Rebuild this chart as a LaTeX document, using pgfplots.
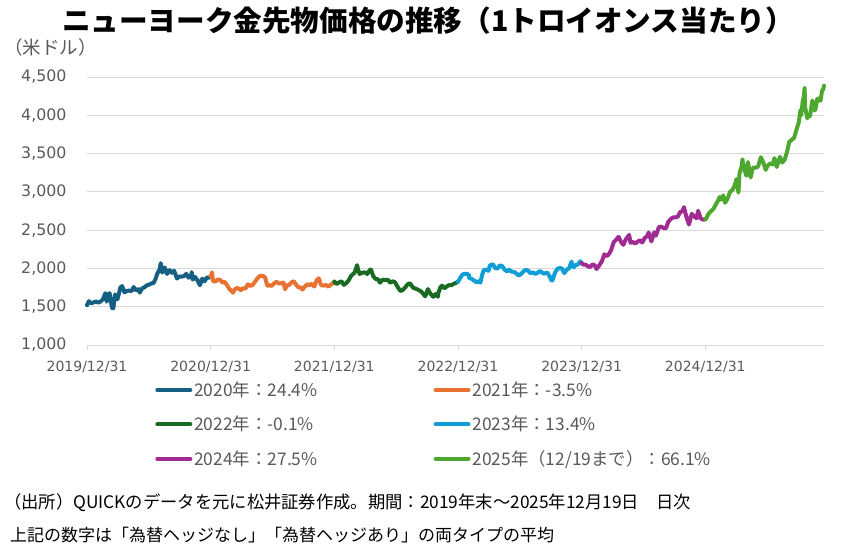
\documentclass[border=0pt]{standalone}
\usepackage{fontspec}
\setmainfont{Noto Sans CJK JP}
\newfontfamily\dv{DejaVu Sans}
\usepackage{pgfplots}
\pgfplotsset{compat=1.18}
\definecolor{c20}{HTML}{156082}
\definecolor{c21}{HTML}{E97132}
\definecolor{c22}{HTML}{196B24}
\definecolor{c23}{HTML}{0F9ED5}
\definecolor{c24}{HTML}{A02B93}
\definecolor{c25}{HTML}{4EA72E}
\definecolor{txtgrey}{HTML}{595959}
\definecolor{gridgrey}{HTML}{D9D9D9}
\begin{document}
\begin{tikzpicture}[x=1pt,y=1pt]
\useasboundingbox (0,0) rectangle (859,551);
\node[font=\fontsize{28.6}{32}\selectfont\bfseries, anchor=center] at (428,530) {ニューヨーク金先物価格の推移（1トロイオンス当たり）};
\node[font=\fontsize{18.5}{20}\selectfont, text=txtgrey, anchor=west, inner sep=0pt] at (4,503.5) {（米ドル）};
\node[font=\fontsize{17.3}{20}\selectfont, anchor=west, inner sep=0pt] at (4,48.5) {（出所）QUICKのデータを元に松井証券作成。期間：2019年末～2025年12月19日　日次};
\node[font=\fontsize{17}{20}\selectfont, anchor=west, inner sep=0pt] at (10,16) {上記の数字は「為替ヘッジなし」「為替ヘッジあり」の両タイプの平均};
\begin{axis}[
  at={(87pt,206pt)}, anchor=south west,
  width=737pt, height=268pt, scale only axis,
  xmin=0, xmax=5.96, ymin=1000, ymax=4500,
  clip=false,
  axis x line*=bottom, axis y line*=left,
  y axis line style={draw=none},
  x axis line style={draw=gridgrey, line width=0.8pt},
  ytick={1000,1500,...,4500},
  xtick={0,1,2,3,4,5},
  xticklabels={2019/12/31,2020/12/31,2021/12/31,2022/12/31,2023/12/31,2024/12/31},
  ymajorgrids, grid style={gridgrey, line width=0.8pt},
  major tick length=5pt,
  xtick align=outside,
  x tick style={draw=gridgrey, line width=0.8pt},
  y tick style={draw=none},
  tick label style={text=txtgrey},
  xticklabel style={font=\dv\fontsize{14}{16}\selectfont, yshift=-8pt},
  yticklabel style={font=\dv\fontsize{15.8}{18}\selectfont, xshift=-17pt},
  /pgf/number format/assume math mode=true,
  /pgf/number format/1000 sep={,},
  legend columns=2,
  legend cell align=left,
  legend image code/.code={\draw[line width=4pt, line cap=round] (0pt,0pt) -- (33pt,0pt);},
  legend style={at={(0.0924,-0.13)}, anchor=north west, draw=none, fill=none,
    font=\fontsize{17.4}{20}\selectfont, text=txtgrey, row sep=14pt, inner sep=0pt,
    /tikz/every even column/.append style={column sep=114pt}},
  every axis plot/.append style={line width=4pt, line join=round, line cap=round},
]
\addplot[c20] coordinates {
(0.000,1520)(0.016,1574)(0.019,1560)(0.036,1545)(0.055,1558)(0.074,1568)(0.093,1553)(0.112,1570)(0.131,1603)(0.148,1676)(0.159,1566)(0.175,1672)(0.183,1675)(0.191,1590)(0.202,1486)(0.213,1478)(0.227,1660)(0.246,1596)(0.254,1645)(0.270,1752)(0.284,1769)(0.303,1688)(0.322,1707)(0.341,1710)(0.361,1705)(0.377,1757)(0.399,1712)(0.418,1728)(0.426,1683)(0.445,1737)(0.464,1753)(0.484,1780)(0.500,1787)(0.519,1803)(0.538,1810)(0.555,1865)(0.568,1931)(0.587,1986)(0.596,2069)(0.609,1946)(0.628,2013)(0.648,1928)(0.667,1978)(0.686,1943)(0.705,1970)(0.727,1868)(0.746,1895)(0.765,1893)(0.784,1900)(0.803,1929)(0.822,1879)(0.842,1910)(0.847,1951)(0.855,1854)(0.874,1889)(0.896,1837)(0.913,1780)(0.932,1866)(0.951,1832)(0.970,1882)(0.989,1880)(1.000,1895)
};
\addlegendentry{2020年：24.4\%}
\addplot[c21] coordinates {
(1.000,1895)(1.011,1950)(1.019,1835)(1.038,1829)(1.058,1856)(1.077,1850)(1.096,1814)(1.115,1824)(1.134,1776)(1.153,1729)(1.173,1700)(1.181,1683)(1.192,1720)(1.211,1745)(1.230,1733)(1.244,1715)(1.263,1742)(1.282,1737)(1.301,1793)(1.321,1773)(1.340,1785)(1.359,1826)(1.378,1870)(1.397,1900)(1.414,1905)(1.433,1893)(1.441,1877)(1.458,1774)(1.479,1781)(1.493,1771)(1.512,1803)(1.532,1825)(1.551,1803)(1.570,1806)(1.589,1814)(1.603,1727)(1.614,1778)(1.633,1781)(1.652,1816)(1.671,1833)(1.690,1790)(1.710,1753)(1.729,1750)(1.742,1723)(1.762,1762)(1.781,1793)(1.800,1783)(1.819,1798)(1.838,1763)(1.858,1848)(1.874,1871)(1.893,1783)(1.912,1775)(1.932,1784)(1.953,1763)(1.973,1790)(1.992,1810)(2.000,1828)
};
\addlegendentry{2021年：-3.5\%}
\addplot[c22] coordinates {
(2.000,1828)(2.019,1797)(2.038,1817)(2.058,1832)(2.077,1786)(2.096,1807)(2.115,1842)(2.134,1899)(2.151,1926)(2.164,1944)(2.184,2043)(2.192,1985)(2.205,1928)(2.225,1944)(2.247,1949)(2.266,1927)(2.285,1974)(2.296,1986)(2.315,1898)(2.334,1863)(2.353,1858)(2.370,1814)(2.389,1853)(2.414,1848)(2.433,1852)(2.452,1813)(2.471,1832)(2.490,1821)(2.510,1764)(2.534,1705)(2.553,1718)(2.573,1752)(2.592,1791)(2.611,1807)(2.622,1780)(2.638,1748)(2.658,1736)(2.679,1720)(2.699,1702)(2.718,1671)(2.734,1636)(2.745,1672)(2.756,1730)(2.775,1676)(2.800,1629)(2.819,1666)(2.838,1630)(2.841,1677)(2.858,1754)(2.871,1776)(2.890,1740)(2.912,1768)(2.926,1781)(2.945,1781)(2.964,1797)(2.986,1814)(3.000,1826)
};
\addlegendentry{2022年：-0.1\%}
\addplot[c23] coordinates {
(3.000,1826)(3.016,1870)(3.036,1921)(3.055,1928)(3.071,1930)(3.088,1915)(3.090,1876)(3.110,1865)(3.129,1842)(3.153,1817)(3.162,1836)(3.181,1814)(3.195,1913)(3.208,1973)(3.214,1982)(3.227,1983)(3.247,1969)(3.258,2038)(3.282,2055)(3.301,2004)(3.321,1999)(3.337,2038)(3.356,2034)(3.375,1986)(3.395,1963)(3.414,1982)(3.433,1958)(3.452,1955)(3.471,1936)(3.490,1908)(3.510,1927)(3.529,1961)(3.548,1981)(3.567,1972)(3.586,1937)(3.605,1949)(3.625,1928)(3.644,1943)(3.663,1966)(3.682,1943)(3.701,1932)(3.721,1948)(3.740,1900)(3.756,1841)(3.764,1845)(3.784,1941)(3.803,1994)(3.822,2006)(3.841,1999)(3.860,1938)(3.879,1984)(3.899,2003)(3.918,2089)(3.926,2042)(3.937,2014)(3.951,2044)(3.970,2051)(3.989,2093)(4.000,2071)
};
\addlegendentry{2023年：13.4\%}
\addplot[c24] coordinates {
(4.000,2071)(4.011,2050)(4.030,2051)(4.049,2029)(4.068,2018)(4.088,2054)(4.107,2038)(4.121,1992)(4.145,2045)(4.164,2096)(4.184,2185)(4.203,2161)(4.219,2182)(4.238,2238)(4.260,2345)(4.279,2374)(4.299,2413)(4.318,2347)(4.337,2308)(4.356,2375)(4.375,2418)(4.384,2438)(4.395,2335)(4.414,2345)(4.433,2325)(4.452,2348)(4.471,2369)(4.490,2339)(4.510,2397)(4.529,2421)(4.542,2469)(4.564,2353)(4.586,2470)(4.600,2427)(4.625,2540)(4.644,2546)(4.663,2527)(4.682,2524)(4.701,2610)(4.721,2646)(4.740,2667)(4.759,2667)(4.778,2676)(4.797,2736)(4.816,2749)(4.827,2800)(4.847,2676)(4.868,2573)(4.890,2712)(4.910,2681)(4.929,2655)(4.942,2753)(4.962,2653)(4.984,2636)(5.000,2641)
};
\addlegendentry{2024年：27.5\%}
\addplot[c25] coordinates {
(5.000,2641)(5.008,2654)(5.027,2715)(5.047,2748)(5.066,2777)(5.085,2835)(5.104,2887)(5.115,2932)(5.126,2900)(5.145,2954)(5.159,2857)(5.181,2914)(5.200,3001)(5.219,3022)(5.238,3085)(5.252,3166)(5.268,2990)(5.277,3245)(5.293,3328)(5.301,3425)(5.304,3380)(5.315,3298)(5.332,3210)(5.345,3390)(5.367,3188)(5.384,3315)(5.408,3315)(5.427,3331)(5.449,3452)(5.469,3385)(5.488,3287)(5.504,3342)(5.526,3372)(5.545,3358)(5.559,3440)(5.578,3325)(5.603,3458)(5.622,3382)(5.641,3418)(5.660,3516)(5.679,3653)(5.699,3680)(5.718,3705)(5.737,3809)(5.756,3908)(5.770,4070)(5.775,4000)(5.789,4200)(5.795,4213)(5.803,4359)(5.808,4100)(5.825,3960)(5.833,4000)(5.847,3990)(5.866,4193)(5.879,4066)(5.888,4065)(5.907,4218)(5.921,4218)(5.932,4189)(5.945,4328)(5.953,4335)(5.960,4387)
};
\addlegendentry{2025年（12/19まで）：66.1\%}
\end{axis}
\end{tikzpicture}
\end{document}
